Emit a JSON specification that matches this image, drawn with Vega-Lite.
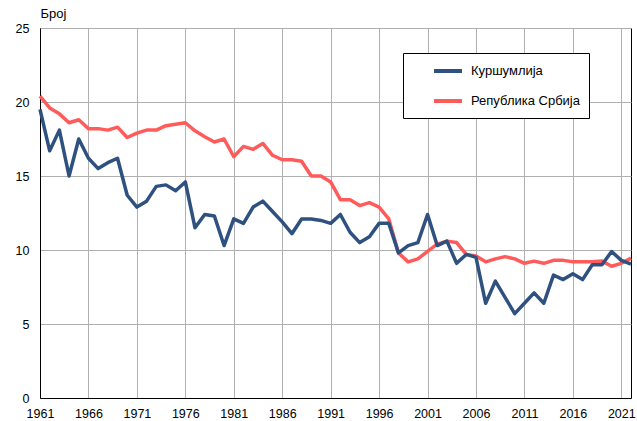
{
  "$schema": "https://vega.github.io/schema/vega-lite/v6.json",
  "autosize": {"type": "none"},
  "width": 591,
  "height": 370,
  "padding": {"left": 40, "top": 28, "right": 6, "bottom": 23},
  "background": "white",
  "config": {
    "font": "Liberation Sans",
    "view": {"stroke": "black", "strokeWidth": 1}
  },
  "datasets": {
    "k": [
      {"year":1961,"v":19.5},{"year":1962,"v":16.7},{"year":1963,"v":18.1},{"year":1964,"v":15.0},{"year":1965,"v":17.5},
      {"year":1966,"v":16.2},{"year":1967,"v":15.5},{"year":1968,"v":15.9},{"year":1969,"v":16.2},{"year":1970,"v":13.7},
      {"year":1971,"v":12.9},{"year":1972,"v":13.3},{"year":1973,"v":14.3},{"year":1974,"v":14.4},{"year":1975,"v":14.0},
      {"year":1976,"v":14.6},{"year":1977,"v":11.5},{"year":1978,"v":12.4},{"year":1979,"v":12.3},{"year":1980,"v":10.3},
      {"year":1981,"v":12.1},{"year":1982,"v":11.8},{"year":1983,"v":12.9},{"year":1984,"v":13.3},{"year":1985,"v":12.6},
      {"year":1986,"v":11.9},{"year":1987,"v":11.1},{"year":1988,"v":12.1},{"year":1989,"v":12.1},{"year":1990,"v":12.0},
      {"year":1991,"v":11.8},{"year":1992,"v":12.4},{"year":1993,"v":11.2},{"year":1994,"v":10.5},{"year":1995,"v":10.9},
      {"year":1996,"v":11.8},{"year":1997,"v":11.8},{"year":1998,"v":9.8},{"year":1999,"v":10.3},{"year":2000,"v":10.5},
      {"year":2001,"v":12.4},{"year":2002,"v":10.3},{"year":2003,"v":10.6},{"year":2004,"v":9.1},{"year":2005,"v":9.7},
      {"year":2006,"v":9.5},{"year":2007,"v":6.4},{"year":2008,"v":7.9},{"year":2009,"v":6.8},{"year":2010,"v":5.7},
      {"year":2011,"v":6.4},{"year":2012,"v":7.1},{"year":2013,"v":6.4},{"year":2014,"v":8.3},{"year":2015,"v":8.0},
      {"year":2016,"v":8.4},{"year":2017,"v":8.0},{"year":2018,"v":9.0},{"year":2019,"v":9.0},{"year":2020,"v":9.9},
      {"year":2021,"v":9.3},{"year":2022,"v":9.05}
    ],
    "s": [
      {"year":1961,"v":20.4},{"year":1962,"v":19.6},{"year":1963,"v":19.2},{"year":1964,"v":18.6},{"year":1965,"v":18.8},
      {"year":1966,"v":18.2},{"year":1967,"v":18.2},{"year":1968,"v":18.1},{"year":1969,"v":18.3},{"year":1970,"v":17.6},
      {"year":1971,"v":17.9},{"year":1972,"v":18.1},{"year":1973,"v":18.1},{"year":1974,"v":18.4},{"year":1975,"v":18.5},
      {"year":1976,"v":18.6},{"year":1977,"v":18.05},{"year":1978,"v":17.65},{"year":1979,"v":17.3},{"year":1980,"v":17.5},
      {"year":1981,"v":16.3},{"year":1982,"v":17.0},{"year":1983,"v":16.8},{"year":1984,"v":17.2},{"year":1985,"v":16.4},
      {"year":1986,"v":16.1},{"year":1987,"v":16.1},{"year":1988,"v":16.0},{"year":1989,"v":15.0},{"year":1990,"v":15.0},
      {"year":1991,"v":14.6},{"year":1992,"v":13.4},{"year":1993,"v":13.4},{"year":1994,"v":13.0},{"year":1995,"v":13.2},
      {"year":1996,"v":12.9},{"year":1997,"v":12.1},{"year":1998,"v":9.8},{"year":1999,"v":9.2},{"year":2000,"v":9.4},
      {"year":2001,"v":9.9},{"year":2002,"v":10.4},{"year":2003,"v":10.6},{"year":2004,"v":10.5},{"year":2005,"v":9.7},
      {"year":2006,"v":9.6},{"year":2007,"v":9.2},{"year":2008,"v":9.4},{"year":2009,"v":9.55},{"year":2010,"v":9.4},
      {"year":2011,"v":9.1},{"year":2012,"v":9.25},{"year":2013,"v":9.1},{"year":2014,"v":9.3},{"year":2015,"v":9.3},
      {"year":2016,"v":9.2},{"year":2017,"v":9.2},{"year":2018,"v":9.2},{"year":2019,"v":9.25},{"year":2020,"v":8.9},
      {"year":2021,"v":9.1},{"year":2022,"v":9.45}
    ]
  },
  "layer": [
    {
      "data": {"name": "s"},
      "transform": [{"calculate": "'Република Србија'", "as": "series"}],
      "mark": {"type": "line", "strokeWidth": 3.5, "strokeJoin": "round"},
      "encoding": {
        "x": {"field": "year", "type": "quantitative"},
        "y": {"field": "v", "type": "quantitative"},
        "color": {"field": "series", "type": "nominal"}
      }
    },
    {
      "data": {"name": "k"},
      "transform": [{"calculate": "'Куршумлија'", "as": "series"}],
      "mark": {"type": "line", "strokeWidth": 3.5, "strokeJoin": "round"},
      "encoding": {
        "x": {
          "field": "year", "type": "quantitative",
          "scale": {"domain": [1961, 2022], "nice": false, "zero": false},
          "axis": {
            "title": null,
            "values": [1961,1966,1971,1976,1981,1986,1991,1996,2001,2006,2011,2016,2021],
            "format": "d",
            "ticks": false,
            "labelPadding": 9,
            "labelFontSize": 12.5,
            "labelColor": "black",
            "labelFlush": false,
            "labelOverlap": false,
            "domainColor": "black",
            "gridColor": "#b0b0b0",
            "gridWidth": 1
          }
        },
        "y": {
          "field": "v", "type": "quantitative",
          "scale": {"domain": [0, 25], "nice": false},
          "axis": {
            "title": "Број",
            "titleAngle": 0,
            "titleAlign": "left",
            "titleBaseline": "alphabetic",
            "titleX": 0,
            "titleY": -11,
            "titleFontSize": 13,
            "titleFontWeight": "normal",
            "titleColor": "black",
            "values": [0, 5, 10, 15, 20, 25],
            "ticks": false,
            "labelPadding": 11,
            "labelFontSize": 12.5,
            "labelColor": "black",
            "domainColor": "black",
            "gridColor": "#b0b0b0",
            "gridWidth": 1
          }
        },
        "color": {
          "field": "series", "type": "nominal",
          "scale": {"domain": ["Куршумлија", "Република Србија"], "range": ["#2E5180", "#FF5B5B"]},
          "legend": {
            "title": null,
            "orient": "none",
            "legendX": 363,
            "legendY": 25,
            "strokeColor": "black",
            "fillColor": "white",
            "padding": 9,
            "symbolType": "M-2,0H2",
            "symbolSize": 196,
            "symbolStrokeWidth": 4,
            "symbolOffset": 27,
            "labelOffset": 14,
            "rowPadding": 13,
            "labelFontSize": 13,
            "labelColor": "black"
          }
        }
      }
    }
  ]
}
